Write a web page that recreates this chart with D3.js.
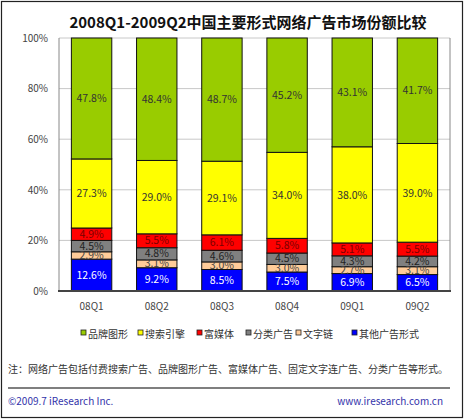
<!DOCTYPE html>
<html>
<head>
<meta charset="utf-8">
<script src="https://cdn.jsdelivr.net/npm/d3@7"></script>
<style>
  body { margin: 0; background: #fff; }
  text { font-family: "Noto Sans CJK SC", "Noto Sans", sans-serif; }
</style>
</head>
<body>
<svg id="chart" width="464" height="419"></svg>
<script>
// data, bottom segment first
const quarters = ["08Q1", "08Q2", "08Q3", "08Q4", "09Q1", "09Q2"];
const seriesNames = ["其他广告形式", "文字链", "分类广告", "富媒体", "搜索引擎", "品牌图形"];
const other   = [12.6, 9.2, 8.5, 7.5, 6.9, 6.5];
const textLink = [2.9, 3.1, 3.0, 3.0, 2.7, 3.1];
const classified = [4.5, 4.8, 4.6, 4.5, 4.3, 4.2];
const richMedia = [4.9, 5.5, 6.1, 5.8, 5.1, 5.5];
const search  = [27.3, 29.0, 29.1, 34.0, 38.0, 39.0];
const brand   = [47.8, 48.4, 48.7, 45.2, 43.1, 41.7];
const yTicks = [0, 20, 40, 60, 80, 100];
const legendOrder = ["品牌图形", "搜索引擎", "富媒体", "分类广告", "文字链", "其他广告形式"];

const colors = {
  "品牌图形": "#99cc00", "搜索引擎": "#ffff00", "富媒体": "#ff0000",
  "分类广告": "#808080", "文字链": "#ffcc99", "其他广告形式": "#0000ff"
};
const labelColors = {
  "品牌图形": "#333", "搜索引擎": "#333", "富媒体": "#7a0000",
  "分类广告": "#222", "文字链": "#444", "其他广告形式": "#fff"
};

const svg = d3.select("#chart");
const W = +svg.attr("width"), H = +svg.attr("height");

// outer frame
svg.append("rect").attr("x", 1.5).attr("y", 1.5).attr("width", W - 3).attr("height", H - 3)
  .attr("fill", "none").attr("stroke", "#222").attr("stroke-width", 1.2);

svg.append("text").attr("x", 248).attr("y", 28).attr("text-anchor", "middle")
  .attr("font-size", 15).attr("font-weight", "bold").attr("fill", "#111")
  .text("2008Q1-2009Q2中国主要形式网络广告市场份额比较");

const plot = { left: 59, right: 450, top: 38, bottom: 291 };
const x = d3.scaleBand().domain(quarters).range([plot.left, plot.right]).paddingInner(0.38).paddingOuter(0.19);
const y = d3.scaleLinear().domain([0, 100]).range([plot.bottom, plot.top]);

// grid
svg.append("g").selectAll("line").data(yTicks.slice(1)).join("line")
  .attr("x1", plot.left).attr("x2", plot.right)
  .attr("y1", d => y(d)).attr("y2", d => y(d))
  .attr("stroke", "#c8c8c8").attr("stroke-width", 1);

// side frame lines
svg.append("line").attr("x1", plot.left).attr("x2", plot.left).attr("y1", plot.top).attr("y2", plot.bottom)
  .attr("stroke", "#888");
svg.append("line").attr("x1", plot.right).attr("x2", plot.right).attr("y1", plot.top).attr("y2", plot.bottom)
  .attr("stroke", "#888");

// y axis labels
const yAxis = d3.axisLeft(y).tickValues(yTicks).tickSize(0).tickPadding(11).tickFormat(d => d + "%");
const yg = svg.append("g").attr("transform", "translate(" + plot.left + ",0)").call(yAxis);
yg.select(".domain").remove();
yg.selectAll("text").attr("font-size", 10).attr("fill", "#444");

// stacked bars
const table = quarters.map((q, i) => ({
  q: q, "其他广告形式": other[i], "文字链": textLink[i], "分类广告": classified[i],
  "富媒体": richMedia[i], "搜索引擎": search[i], "品牌图形": brand[i]
}));
const stack = d3.stack().keys(seriesNames)(table);

const layers = svg.append("g").selectAll("g").data(stack).join("g")
  .attr("fill", d => colors[d.key]);
layers.selectAll("rect").data(d => d).join("rect")
  .attr("x", d => x(d.data.q))
  .attr("y", d => y(Math.min(d[1], 100)))
  .attr("width", x.bandwidth())
  .attr("height", d => y(d[0]) - y(Math.min(d[1], 100)))
  .attr("stroke", "#111").attr("stroke-width", 1);

// labels, centred in each segment
stack.forEach(layer => {
  svg.append("g").selectAll("text").data(layer).join("text")
    .attr("x", d => x(d.data.q) + x.bandwidth() / 2)
    .attr("y", d => y((d[0] + Math.min(d[1], 100)) / 2))
    .attr("dy", "0.35em")
    .attr("text-anchor", "middle")
    .attr("font-size", 10.5)
    .attr("fill", labelColors[layer.key])
    .text(d => d.data[layer.key].toFixed(1) + "%");
});

// bottom axis line
svg.append("line").attr("x1", plot.left - 1).attr("x2", plot.right + 1)
  .attr("y1", plot.bottom).attr("y2", plot.bottom)
  .attr("stroke", "#444").attr("stroke-width", 2);

// x axis labels
const xAxis = d3.axisBottom(x).tickSize(0).tickPadding(12);
const xg = svg.append("g").attr("transform", "translate(0," + plot.bottom + ")").call(xAxis);
xg.select(".domain").remove();
xg.selectAll("text").attr("font-size", 10).attr("fill", "#444");

// legend
const legendX = [81, 138, 197, 246, 296, 352];
const lg = svg.append("g").selectAll("g").data(legendOrder).join("g")
  .attr("transform", (d, i) => "translate(" + legendX[i] + ",334)");
lg.append("rect").attr("x", 0).attr("y", -4).attr("width", 5).attr("height", 5)
  .attr("fill", d => colors[d]).attr("stroke", "#222").attr("stroke-width", 0.8);
lg.append("text").attr("x", 7).attr("y", 0).attr("dy", "0.35em")
  .attr("font-size", 10).attr("fill", "#333").text(d => d);

// note
svg.append("text").attr("x", 8).attr("y", 373).attr("font-size", 10).attr("fill", "#333")
  .text("注：网络广告包括付费搜索广告、品牌图形广告、富媒体广告、固定文字连广告、分类广告等形式。");

svg.append("line").attr("x1", 8).attr("x2", 450).attr("y1", 388).attr("y2", 388)
  .attr("stroke", "#555").attr("stroke-width", 1.5);

svg.append("text").attr("x", 8).attr("y", 405).attr("font-size", 10).attr("fill", "#3333aa")
  .text("©2009.7 iResearch Inc.");
svg.append("text").attr("x", 443).attr("y", 405).attr("text-anchor", "end").attr("font-size", 10).attr("fill", "#3333aa")
  .text("www.iresearch.com.cn");
</script>
</body>
</html>
